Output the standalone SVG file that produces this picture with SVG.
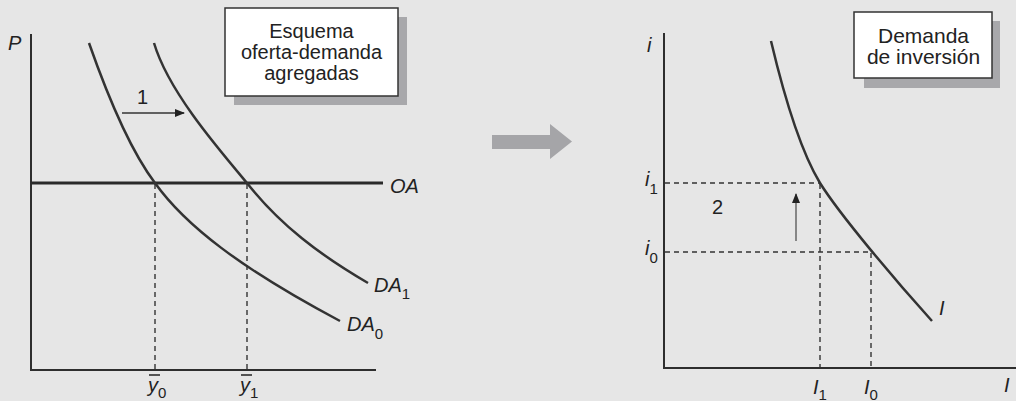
<svg xmlns="http://www.w3.org/2000/svg" width="1016" height="401" viewBox="0 0 1016 401">
<defs>
<style>
.axis{stroke:#2e2e2e;stroke-width:2;fill:none}
.curve{stroke:#333;stroke-width:2.5;fill:none}
.dash{stroke:#333;stroke-width:1.4;stroke-dasharray:5,4;fill:none}
.lbl{font-family:"Liberation Sans",Arial,sans-serif;font-style:italic;font-size:20px;fill:#222}
.sub{font-family:"Liberation Sans",Arial,sans-serif;font-style:normal;font-size:15px;fill:#222}
.num{font-family:"Liberation Sans",Arial,sans-serif;font-size:20px;fill:#222}
.box{fill:#fff;stroke:#333;stroke-width:1.5}
.shadow{fill:#a8a8ab}
.btxt{font-family:"Liberation Sans",Arial,sans-serif;font-size:20px;fill:#222;text-anchor:middle}
.btxt2{font-family:"Liberation Sans",Arial,sans-serif;font-size:21px;fill:#222;text-anchor:middle}
</style>
<marker id="ah" markerWidth="10" markerHeight="8" refX="9" refY="4" orient="auto" markerUnits="userSpaceOnUse">
<path d="M0,0 L10,4 L0,8 Z" fill="#222"/>
</marker>
</defs>
<rect width="1016" height="401" fill="#e6e6e6"/>

<g id="left-axes">
<path class="axis" d="M31,34 V370 H376"/>
<text class="lbl" x="8" y="50">P</text>
</g>

<g id="connectors">
<path class="dash" d="M155,184 V369"/>
<path class="dash" d="M247,184 V369"/>
<path class="dash" d="M665,183 H820"/>
<path class="dash" d="M665,252 H871"/>
<path class="dash" d="M820,184 V367"/>
<path class="dash" d="M871,253 V367"/>
<line x1="122" y1="113" x2="184" y2="113" stroke="#333" stroke-width="1.3" marker-end="url(#ah)"/>
<line x1="796" y1="241" x2="796" y2="194" stroke="#666" stroke-width="1.5" marker-end="url(#ah)"/>
<path d="M492,135 H550 V124 L572,141.5 L550,159 V149 H492 Z" fill="#a5a5a8"/>
</g>

<g id="OA">
<line x1="31" y1="183" x2="383" y2="183" stroke="#2a2a2a" stroke-width="3"/>
<text class="lbl" x="390" y="193">OA</text>
</g>

<g id="DA0">
<path class="curve" d="M89,43 C109,100 130,150 155,183 C185,225 240,268 340,321"/>
<text class="lbl" x="347" y="331">DA<tspan class="sub" dy="8">0</tspan></text>
</g>

<g id="DA1">
<path class="curve" d="M154,43 C168,90 215,145 247,183 C280,225 320,255 368,283"/>
<text class="lbl" x="374" y="292">DA<tspan class="sub" dy="7">1</tspan></text>
</g>

<g id="shift1">
<text class="num" x="137" y="104">1</text>
</g>

<g id="y-labels">
<line x1="149" y1="375" x2="160" y2="375" stroke="#222" stroke-width="1.5"/>
<text class="lbl" x="148" y="392">y<tspan class="sub" dy="6">0</tspan></text>
<line x1="241" y1="375" x2="252" y2="375" stroke="#222" stroke-width="1.5"/>
<text class="lbl" x="240" y="392">y<tspan class="sub" dy="6">1</tspan></text>
</g>

<g id="box-left">
<rect class="shadow" x="234" y="17" width="173" height="88"/>
<rect class="box" x="225" y="8" width="173" height="88"/>
<text class="btxt" x="311.5" y="38">Esquema</text>
<text class="btxt" x="311.5" y="59">oferta-demanda</text>
<text class="btxt" x="311.5" y="80">agregadas</text>
</g>

<g id="right-axes">
<path class="axis" d="M664,33 V368 H1016"/>
<text class="lbl" x="647" y="52">i</text>
<text class="lbl" x="1004" y="392">I</text>
</g>

<g id="I-curve">
<path class="curve" d="M771,41 C785,100 800,150 820,183 C840,215 895,280 932,321"/>
<text class="lbl" x="939" y="315">I</text>
</g>

<g id="i-labels">
<text class="lbl" x="645" y="186">i<tspan class="sub" dy="8">1</tspan></text>
<text class="lbl" x="645" y="255">i<tspan class="sub" dy="8">0</tspan></text>
<text class="num" x="712" y="214">2</text>
</g>

<g id="I-labels">
<text class="lbl" x="813" y="394">I<tspan class="sub" dy="6">1</tspan></text>
<text class="lbl" x="864" y="394">I<tspan class="sub" dy="6">0</tspan></text>
</g>

<g id="box-right">
<rect class="shadow" x="864" y="21" width="136" height="67"/>
<rect class="box" x="854" y="12" width="138" height="66"/>
<text class="btxt2" x="923.5" y="43">Demanda</text>
<text class="btxt2" x="923.5" y="64">de inversión</text>
</g>
</svg>
